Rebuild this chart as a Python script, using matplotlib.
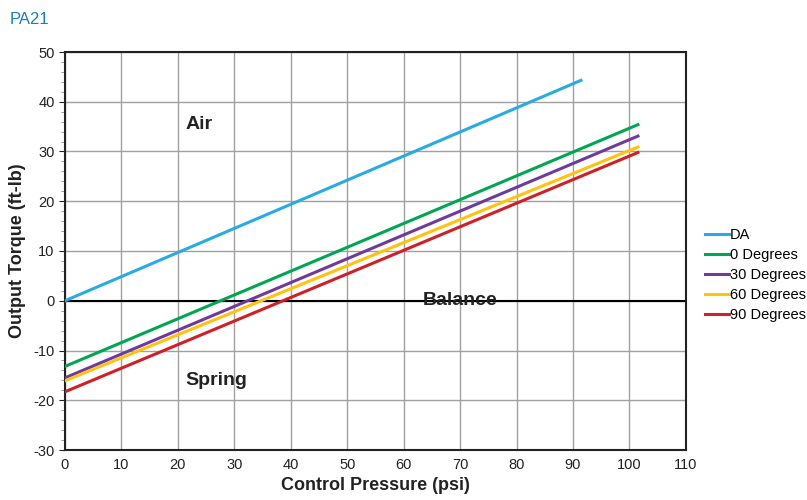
import numpy as np
import matplotlib.pyplot as plt
from matplotlib.ticker import MultipleLocator

# Endpoints: (pressure, torque)
da_x = [0, 91.4]
da_y = [0, 44.3]
deg0_x = [0, 101.5]
deg0_y = [-13.2, 35.4]
deg30_x = [0, 101.5]
deg30_y = [-15.5, 33.1]
deg60_x = [0, 101.5]
deg60_y = [-16.1, 30.9]
deg90_x = [0, 101.5]
deg90_y = [-18.3, 29.8]

series = [
    ("DA", da_x, da_y, "#29abe2"),
    ("0 Degrees", deg0_x, deg0_y, "#00a651"),
    ("30 Degrees", deg30_x, deg30_y, "#6e3b9c"),
    ("60 Degrees", deg60_x, deg60_y, "#ffc20e"),
    ("90 Degrees", deg90_x, deg90_y, "#cf2027"),
]

plt.rcParams['font.family'] = ['Liberation Sans', 'DejaVu Sans']
plt.rcParams['axes.unicode_minus'] = False

fig = plt.figure(figsize=(8.07, 5.0), dpi=100)
ax = fig.add_axes([0.0805, 0.10, 0.7695, 0.796])

ax.axhline(0, color='black', lw=1.5, zorder=2)
for name, xs, ys, c in series:
    ax.plot(xs, ys, color=c, lw=2.2, label=name, zorder=3)

ax.set_xlim(0, 110)
ax.set_ylim(-30, 50)
ax.xaxis.set_major_locator(MultipleLocator(10))
ax.yaxis.set_major_locator(MultipleLocator(10))
ax.yaxis.set_minor_locator(MultipleLocator(2))
ax.grid(True, which='major', color='#a0a0a0', lw=1)
ax.set_axisbelow(True)
ax.tick_params(axis='x', length=0, labelsize=10.5, colors='#222222', pad=6)
ax.tick_params(axis='y', which='major', length=4, labelsize=10.5, colors='#222222')
ax.tick_params(axis='y', which='minor', length=3, color='#888888')
for s in ax.spines.values():
    s.set_linewidth(1.5)
    s.set_color('#222222')

ax.set_xlabel("Control Pressure (psi)", fontsize=13, fontweight='bold', color='#222222', labelpad=3)
ax.set_ylabel("Output Torque (ft-lb)", fontsize=13, fontweight='bold', color='#222222', labelpad=5)

ax.text(21.3, 35.5, "Air", fontsize=14, fontweight='bold', color='#222222', va='center')
ax.text(21.3, -16, "Spring", fontsize=14, fontweight='bold', color='#222222', va='center')
ax.text(70, 0, "Balance", fontsize=14, fontweight='bold', color='#222222', va='center', ha='center', zorder=4)

fig.text(0.012, 0.962, "PA21", fontsize=12, color='#1a7dc0', va='center')

ax.legend(loc='center left', bbox_to_anchor=(1.01, 0.44), frameon=False, fontsize=10.5,
          handlelength=1.6, handletextpad=0.1, labelspacing=0.42, borderaxespad=0.5)

fig.savefig("out.png", dpi=100)
